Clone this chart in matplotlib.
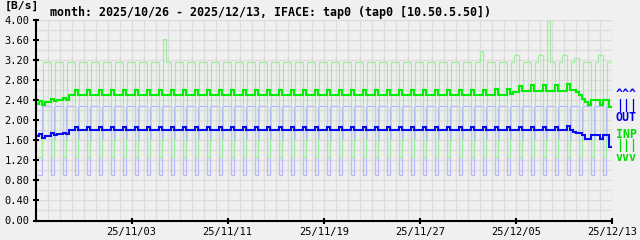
import numpy as np
import matplotlib
matplotlib.use("Agg")
import matplotlib.pyplot as plt
from matplotlib.ticker import MultipleLocator, FormatStrFormatter
from datetime import date

plt.rcParams['font.family'] = ['DejaVu Sans Mono']

start = date(2025, 10, 26)
n_days = 48
per_day = 8  # 3-hour samples

title = "month: 2025/10/26 - 2025/12/13, IFACE: tap0 (tap0 [10.50.5.50])"
unit = "[B/s]"
tick_dates = [date(2025, 11, 3), date(2025, 11, 11), date(2025, 11, 19),
              date(2025, 11, 27), date(2025, 12, 5), date(2025, 12, 13)]

# maxima: usual shape of a day (3-hour slots) + the odd slots that differ
in_max_day = [3.17, 3.17, 1.26, 1.26, 1.62, 3.17, 3.17, 3.17]
out_max_day = [2.28, 2.28, 0.90, 0.90, 2.28, 2.28, 2.28, 2.28]
in_max_odd = {(0, 1): 1.26,
              (10, 5): 3.63, (10, 6): 3.63,
              (37, 0): 3.38, (37, 1): 3.38,
              (39, 7): 3.30, (40, 0): 3.30, (40, 1): 3.30,
              (41, 7): 3.30, (42, 0): 3.30, (42, 1): 3.30,
              (42, 5): 3.98, (42, 6): 3.98,
              (43, 7): 3.30, (44, 0): 3.30, (44, 1): 3.30,
              (44, 7): 3.25, (45, 0): 3.25, (45, 1): 3.25,
              (46, 7): 3.31, (47, 0): 3.31, (47, 1): 3.31}
out_max_odd = {(0, 1): 0.90}

# averages, 4 quarters (6h) per day
in_avg_q0 = [2.32, 2.37, 2.40] + [2.51] * 37 + [2.57, 2.59, 2.59, 2.59, 2.59, 2.57, 2.31, 2.30]
in_avg_q1 = [2.39, 2.43, 2.45] + [2.60] * 33 + [2.61, 2.61, 2.62, 2.63, 2.69, 2.70, 2.70, 2.70,
                                               2.73, 2.50, 2.40, 2.40]
in_avg_q2 = [2.30, 2.38, 2.40] + [2.51] * 36 + [2.53, 2.59, 2.59, 2.59, 2.59, 2.60, 2.43, 2.40, 2.40]
in_avg_q3 = [2.37, 2.40, 2.50] + [2.51] * 36 + [2.57, 2.59, 2.59, 2.59, 2.59, 2.60, 2.37, 2.40, 2.27]

out_avg_q0 = [1.69, 1.69, 1.72] + [1.80] * 42 + [1.75, 1.62, 1.62]
out_avg_q1 = [1.73, 1.75, 1.75] + [1.87] * 41 + [1.88, 1.75, 1.70, 1.70]
out_avg_q2 = [1.65, 1.70, 1.73] + [1.80] * 42 + [1.70, 1.70, 1.70]
out_avg_q3 = [1.69, 1.72, 1.80] + [1.80] * 41 + [1.77, 1.62, 1.70, 1.47]


def max_series(day, odd):
    vals = np.tile(day, n_days).astype(float)
    for (d, s), v in odd.items():
        vals[d * per_day + s] = v
    return vals


def avg_series(q0, q1, q2, q3):
    return np.repeat(np.column_stack([q0, q1, q2, q3]).ravel(), 2)


in_max = max_series(in_max_day, in_max_odd)
out_max = max_series(out_max_day, out_max_odd)
in_avg = avg_series(in_avg_q0, in_avg_q1, in_avg_q2, in_avg_q3)
out_avg = avg_series(out_avg_q0, out_avg_q1, out_avg_q2, out_avg_q3)

first = 1  # data starts at 03:00 on day one
edges = np.arange(first, n_days * per_day + 1) / per_day

bg = '#f0f0f0'
fig = plt.figure(figsize=(6.4, 2.4), dpi=100, facecolor=bg)
ax = fig.add_axes([35.5 / 640, 19.5 / 240, (612 - 35.5) / 640, (220.5 - 20) / 240])
ax.set_facecolor(bg)

ax.stairs(out_max[first:], edges, baseline=None, color='#b8b8ff', lw=0.9, zorder=2)
ax.stairs(in_max[first:], edges, baseline=None, color='#9eee9e', lw=0.9, zorder=3)
ax.stairs(out_avg[first:], edges, baseline=None, color='#0a0af0', lw=1.5, zorder=4)
ax.stairs(in_avg[first:], edges, baseline=None, color='#00ee00', lw=1.5, zorder=5)

ax.set_xlim(0, n_days)
ax.set_ylim(0, 4.0)
ax.set_xticks([(d - start).days for d in tick_dates])
ax.set_xticklabels([d.strftime('%y/%m/%d') for d in tick_dates])
ax.xaxis.set_minor_locator(MultipleLocator(1))
ax.yaxis.set_major_locator(MultipleLocator(0.4))
ax.yaxis.set_minor_locator(MultipleLocator(0.2))
ax.yaxis.set_major_formatter(FormatStrFormatter('%.2f'))
ax.grid(which='both', color='#dcdcdc', lw=1.0, zorder=0)
ax.set_axisbelow(True)

for s in ['top', 'right']:
    ax.spines[s].set_visible(False)
for s in ['left', 'bottom']:
    ax.spines[s].set_linewidth(1.5)
ax.tick_params(which='major', direction='inout', length=4, width=1.5,
               labelsize=7.5, pad=2.5)
ax.tick_params(which='minor', length=0)

fig.text(5 / 640, 1 - 6 / 240, unit, fontsize=8.2, fontweight='bold', va='center')
fig.text(50 / 640, 1 - 12.5 / 240, title, fontsize=8.4, fontweight='bold', va='center')

# legend stacks on the right edge (one text block each, anchored on last line)
fig.text(626.5 / 640, 1 - 121 / 240, '^^^\n|||\nOUT', fontsize=8.4, fontweight='bold',
         color='#0000ee', va='baseline', ha='center', linespacing=0.86)
fig.text(626.5 / 640, 1 - 161 / 240, 'INP\n|||\nvvv', fontsize=8.4, fontweight='bold',
         color='#00dd00', va='baseline', ha='center', linespacing=0.86)

fig.savefig('out.png', dpi=100, facecolor=bg)
